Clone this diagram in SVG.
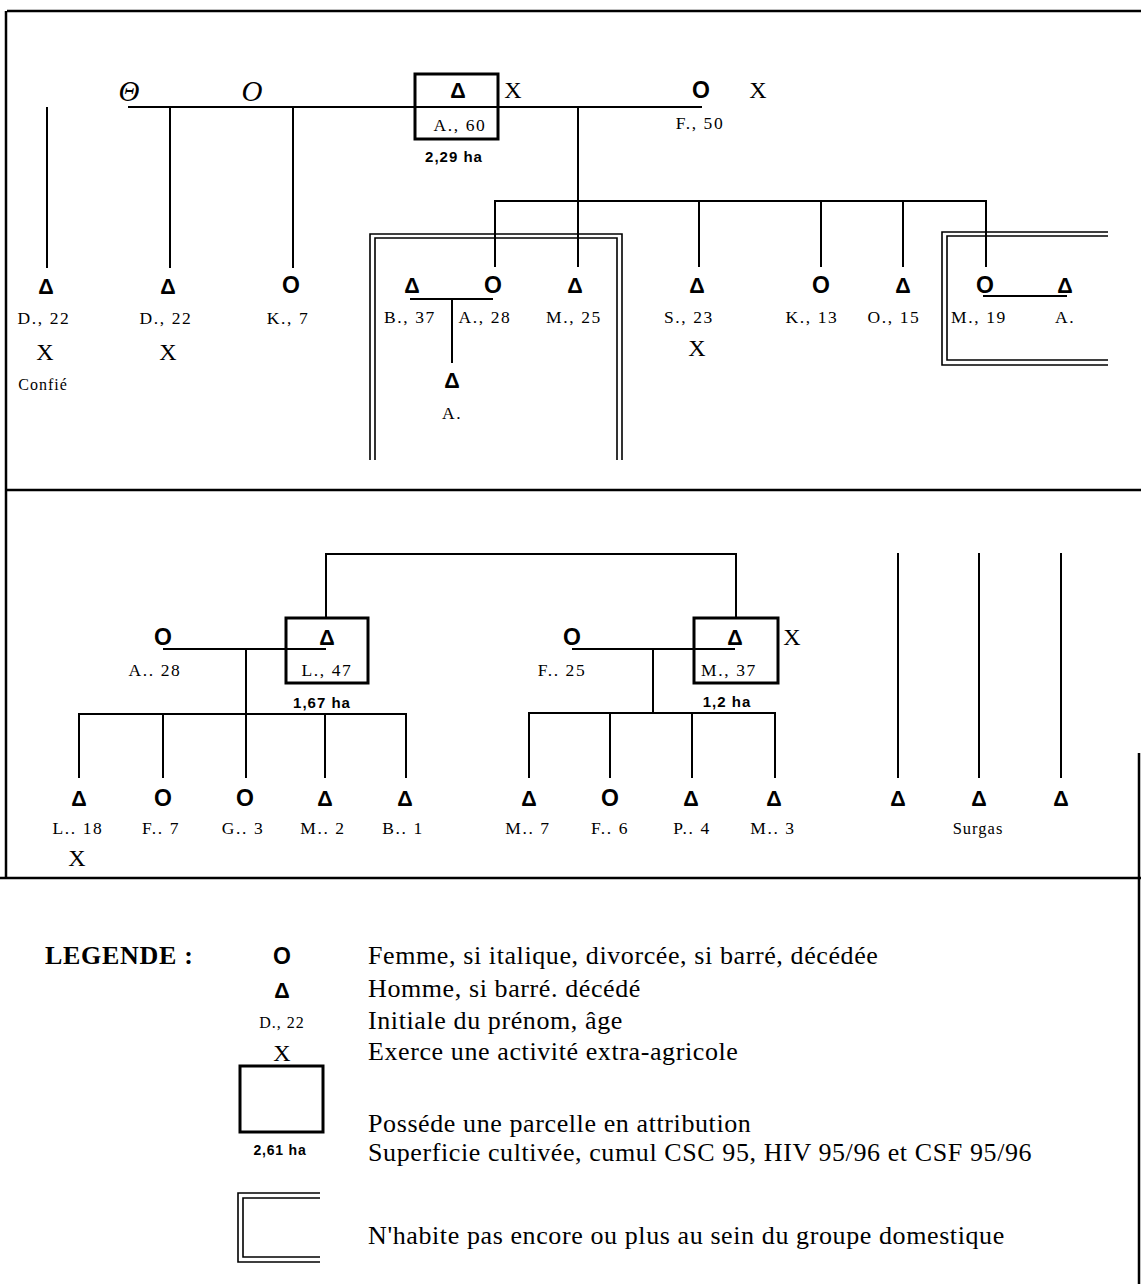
<svg xmlns="http://www.w3.org/2000/svg" width="1141" height="1284" viewBox="0 0 1141 1284">
<style>
text{fill:#000;text-anchor:middle}
.so{font-family:"Liberation Sans",Arial,sans-serif;font-size:23px;font-weight:bold}
.sd{font-family:"Liberation Sans",Arial,sans-serif;font-size:21.5px;font-weight:bold}
.lbl{font-family:"Liberation Serif","Times New Roman",serif;font-size:17.5px;letter-spacing:1.6px}
.x{font-family:"Liberation Serif","Times New Roman",serif;font-size:24px}
.it{font-family:"Liberation Serif","Times New Roman",serif;font-size:29px;font-style:italic}
.ha{font-family:"Liberation Sans",Arial,sans-serif;font-size:15px;font-weight:bold;letter-spacing:1px}
.leg{font-family:"Liberation Serif","Times New Roman",serif;font-size:26px;letter-spacing:0.6px;text-anchor:start}
.legt{font-family:"Liberation Serif","Times New Roman",serif;font-size:26px;font-weight:bold;letter-spacing:0.7px;text-anchor:start}
.ln{stroke:#000;stroke-width:2;fill:none}
.box{stroke:#000;stroke-width:3;fill:none}
.dbl{stroke:#000;stroke-width:1.6;fill:none}
.frame{stroke:#000;stroke-width:2.5;fill:none}
</style>
<rect width="1141" height="1284" fill="#fff"/>

<g id="frame">
<path class="frame" d="M7 11H1141M6 11V878M6 490H1141M0 878H1141M1139 753V1284"/>
</g>

<g id="connectors">
<path class="ln" d="M128 107H702"/>
<path class="ln" d="M47 107V268M170 107V268M293 107V268"/>
<path class="ln" d="M578 107V267"/>
<path class="ln" d="M495 267V201H986V267"/>
<path class="ln" d="M699 201V267M821 201V267M903 201V267"/>
<path class="ln" d="M410 299H493M452 299V363"/>
<path class="ln" d="M983 296H1067"/>
<path class="ln" d="M326 618V554H736V618"/>
<path class="ln" d="M163 649H326M246 649V778"/>
<path class="ln" d="M79 778V714H406V778M163 714V778M325 714V778"/>
<path class="ln" d="M572 649H735M653 649V713"/>
<path class="ln" d="M529 778V713H775V778M610 713V778M692 713V778"/>
<path class="ln" d="M898 553V778M979 553V778M1061 553V778"/>
</g>

<g id="households">
<path class="dbl" d="M370 460V234H622V460M375 460V238H617V460"/>
<path class="dbl" d="M1108 232H942V365H1108M1108 236H947V360H1108"/>
</g>

<g id="n-ex1"><text class="it" x="129" y="101">Θ</text></g>
<g id="n-ex2"><text class="it" x="252" y="101">O</text></g>
<g id="n-A60">
<rect class="box" x="415" y="74" width="83" height="65"/>
<text class="sd" x="458" y="98">Δ</text>
<text class="lbl" x="460" y="131">A., 60</text>
<text class="ha" x="454" y="162">2,29 ha</text>
<text class="x" x="513" y="98">X</text>
</g>
<g id="n-F50">
<text class="so" x="701" y="98">O</text>
<text class="lbl" x="700" y="129">F., 50</text>
<text class="x" x="758" y="98">X</text>
</g>

<g id="n-D22a">
<text class="sd" x="46" y="294">Δ</text>
<text class="lbl" x="44" y="324">D., 22</text>
<text class="x" x="45" y="360">X</text>
<text class="lbl" x="43" y="390" style="font-size:16px;letter-spacing:1px">Confié</text>
</g>
<g id="n-D22b">
<text class="sd" x="168" y="294">Δ</text>
<text class="lbl" x="166" y="324">D., 22</text>
<text class="x" x="168" y="360">X</text>
</g>
<g id="n-K7">
<text class="so" x="291" y="293">O</text>
<text class="lbl" x="288" y="324">K., 7</text>
</g>
<g id="n-B37">
<text class="sd" x="412" y="293">Δ</text>
<text class="lbl" x="410" y="323">B., 37</text>
</g>
<g id="n-A28">
<text class="so" x="493" y="293">O</text>
<text class="lbl" x="485" y="323">A., 28</text>
</g>
<g id="n-Achild">
<text class="sd" x="452" y="388">Δ</text>
<text class="lbl" x="452" y="419">A.</text>
</g>
<g id="n-M25">
<text class="sd" x="575" y="293">Δ</text>
<text class="lbl" x="574" y="323">M., 25</text>
</g>
<g id="n-S23">
<text class="sd" x="697" y="293">Δ</text>
<text class="lbl" x="689" y="323">S., 23</text>
<text class="x" x="697" y="356">X</text>
</g>
<g id="n-K13">
<text class="so" x="821" y="293">O</text>
<text class="lbl" x="812" y="323">K., 13</text>
</g>
<g id="n-O15">
<text class="sd" x="903" y="293">Δ</text>
<text class="lbl" x="894" y="323">O., 15</text>
</g>
<g id="n-M19">
<text class="so" x="985" y="293">O</text>
<text class="lbl" x="979" y="323">M., 19</text>
</g>
<g id="n-Aright">
<text class="sd" x="1065" y="293">Δ</text>
<text class="lbl" x="1065" y="323">A.</text>
</g>

<g id="n-L47">
<rect class="box" x="286" y="618" width="82" height="65"/>
<text class="sd" x="327" y="645">Δ</text>
<text class="lbl" x="327" y="676">L., 47</text>
<text class="ha" x="322" y="708">1,67 ha</text>
</g>
<g id="n-A28b">
<text class="so" x="163" y="645">O</text>
<text class="lbl" x="155" y="676">A.. 28</text>
</g>
<g id="n-M37">
<rect class="box" x="694" y="618" width="84" height="65"/>
<text class="sd" x="735" y="645">Δ</text>
<text class="lbl" x="729" y="676">M., 37</text>
<text class="x" x="792" y="645">X</text>
<text class="ha" x="727" y="707">1,2 ha</text>
</g>
<g id="n-F25">
<text class="so" x="572" y="645">O</text>
<text class="lbl" x="562" y="676">F.. 25</text>
</g>

<g id="n-L18"><text class="sd" x="79" y="806">Δ</text><text class="lbl" x="78" y="834">L.. 18</text><text class="x" x="77" y="866">X</text></g>
<g id="n-F7"><text class="so" x="163" y="806">O</text><text class="lbl" x="161" y="834">F.. 7</text></g>
<g id="n-G3"><text class="so" x="245" y="806">O</text><text class="lbl" x="243" y="834">G.. 3</text></g>
<g id="n-M2"><text class="sd" x="325" y="806">Δ</text><text class="lbl" x="323" y="834">M.. 2</text></g>
<g id="n-B1"><text class="sd" x="405" y="806">Δ</text><text class="lbl" x="403" y="834">B.. 1</text></g>
<g id="n-M7"><text class="sd" x="529" y="806">Δ</text><text class="lbl" x="528" y="834">M.. 7</text></g>
<g id="n-F6"><text class="so" x="610" y="806">O</text><text class="lbl" x="610" y="834">F.. 6</text></g>
<g id="n-P4"><text class="sd" x="691" y="806">Δ</text><text class="lbl" x="692" y="834">P.. 4</text></g>
<g id="n-M3"><text class="sd" x="774" y="806">Δ</text><text class="lbl" x="773" y="834">M.. 3</text></g>
<g id="n-Surgas">
<text class="sd" x="898" y="806">Δ</text>
<text class="sd" x="979" y="806">Δ</text>
<text class="sd" x="1061" y="806">Δ</text>
<text class="lbl" x="978" y="834" style="font-size:16.5px;letter-spacing:1px">Surgas</text>
</g>

<g id="legend">
<text class="legt" x="45" y="964">LEGENDE :</text>
<text class="so" x="282" y="964">O</text>
<text class="sd" x="282" y="998">Δ</text>
<text class="lbl" x="282" y="1028" style="font-size:16px;letter-spacing:1px">D., 22</text>
<text class="x" x="282" y="1061">X</text>
<rect class="box" x="240" y="1066" width="83" height="66"/>
<text class="ha" x="280" y="1155" style="font-size:14px;letter-spacing:0.8px">2,61 ha</text>
<path class="dbl" d="M320 1193H238V1262H320M320 1198H243V1257H320"/>
<text class="leg" x="368" y="964">Femme, si italique, divorcée, si barré, décédée</text>
<text class="leg" x="368" y="997">Homme, si barré. décédé</text>
<text class="leg" x="368" y="1029">Initiale du prénom, âge</text>
<text class="leg" x="368" y="1060">Exerce une activité extra-agricole</text>
<text class="leg" x="368" y="1132">Posséde une parcelle en attribution</text>
<text class="leg" x="368" y="1161">Superficie cultivée, cumul CSC 95, HIV 95/96 et CSF 95/96</text>
<text class="leg" x="368" y="1244">N'habite pas encore ou plus au sein du groupe domestique</text>
</g>
</svg>
